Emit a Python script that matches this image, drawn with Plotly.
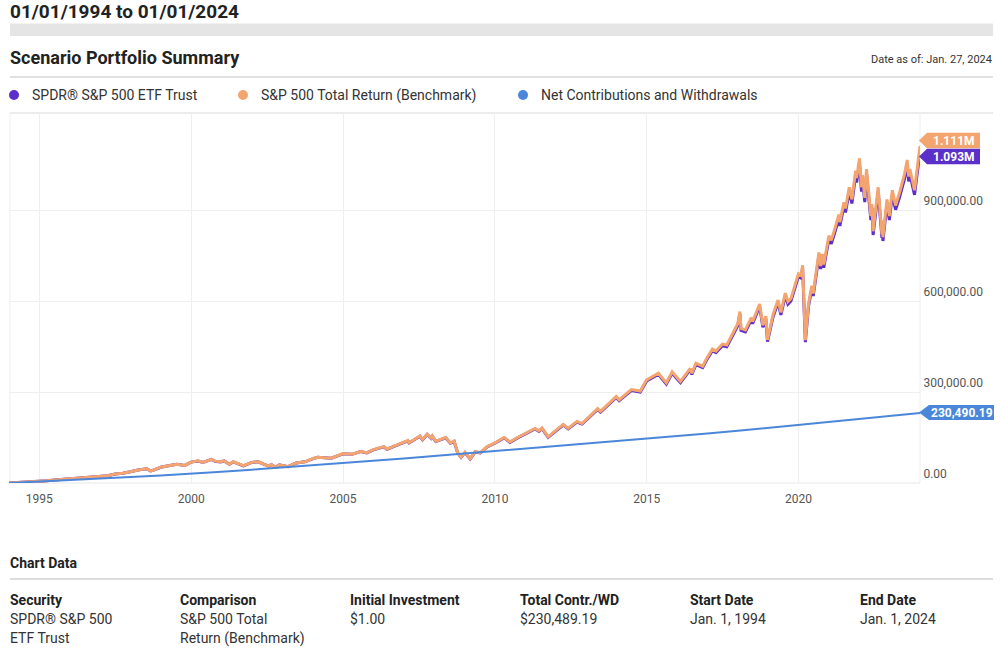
import plotly.graph_objects as go

# ---------------- data ----------------
dates = [
    "1994-01-01", "1994-04-01", "1994-07-01", "1994-10-01",
    "1995-01-01", "1995-04-01", "1995-07-01", "1995-10-01",
    "1996-01-01", "1996-04-01", "1996-07-01", "1996-10-01",
    "1997-01-01", "1997-04-01", "1997-07-01", "1997-10-01",
    "1998-01-01", "1998-04-01", "1998-07-15", "1998-08-31", "1998-10-01", "1998-12-31",
    "1999-04-01", "1999-07-15", "1999-10-15", "1999-12-31",
    "2000-03-24", "2000-05-24", "2000-09-01", "2000-10-15", "2000-12-20",
    "2001-01-31", "2001-04-04", "2001-05-21", "2001-09-21", "2001-12-31",
    "2002-03-19", "2002-07-23", "2002-08-22", "2002-10-09", "2002-11-27",
    "2003-03-11", "2003-06-17", "2003-09-30", "2003-12-31",
    "2004-03-01", "2004-08-12", "2004-12-31",
    "2005-04-20", "2005-07-29", "2005-10-13", "2005-12-31",
    "2006-05-05", "2006-06-13", "2006-09-29", "2006-12-31",
    "2007-02-20", "2007-03-05", "2007-07-16", "2007-08-15", "2007-10-09", "2007-11-26", "2007-12-10",
    "2008-01-22", "2008-05-19", "2008-07-15", "2008-08-29", "2008-10-10", "2008-11-20",
    "2009-01-06", "2009-03-09", "2009-05-08", "2009-07-10", "2009-09-30", "2009-12-31",
    "2010-04-23", "2010-07-02", "2010-10-01", "2010-12-31",
    "2011-04-29", "2011-06-15", "2011-07-22", "2011-10-03", "2011-12-31",
    "2012-04-02", "2012-06-01", "2012-09-14", "2012-11-15", "2012-12-31",
    "2013-05-21", "2013-06-24", "2013-09-18", "2013-12-31",
    "2014-02-03", "2014-06-30", "2014-10-15", "2014-12-31",
    "2015-05-21", "2015-08-25", "2015-11-03",
    "2016-02-11", "2016-06-08", "2016-06-27", "2016-08-15", "2016-11-04", "2016-12-31",
    "2017-03-01", "2017-04-13", "2017-06-30", "2017-08-21", "2017-10-31", "2017-12-31",
    "2018-01-26", "2018-02-08", "2018-04-02", "2018-06-12", "2018-06-28", "2018-09-20", "2018-10-29", "2018-12-03", "2018-12-24",
    "2019-02-28", "2019-04-30", "2019-06-03", "2019-07-26", "2019-08-27", "2019-10-02", "2019-12-31",
    "2020-01-31", "2020-02-19", "2020-03-23", "2020-04-30", "2020-06-08", "2020-06-26", "2020-09-02", "2020-09-23", "2020-10-12", "2020-10-30", "2020-12-31",
    "2021-01-29", "2021-03-04", "2021-04-30", "2021-05-12", "2021-06-30", "2021-07-19", "2021-09-02", "2021-10-04", "2021-11-18", "2021-11-30",
    "2022-01-03", "2022-01-27", "2022-02-09", "2022-03-08", "2022-03-29", "2022-05-20", "2022-06-02", "2022-06-16", "2022-08-16", "2022-09-30", "2022-10-04", "2022-10-12", "2022-11-30", "2022-12-28",
    "2023-02-02", "2023-03-13", "2023-04-28", "2023-06-30", "2023-07-31", "2023-08-18", "2023-09-01", "2023-10-27",
    "2024-01-01",
]

sp500_tr = [
    1, 1200, 2500, 3900,
    5500, 7500, 9800, 11800,
    14000, 16000, 17000, 20000,
    23000, 24000, 30000, 32000,
    37000, 43000, 47000, 40000, 42000, 52000,
    57000, 62000, 58000, 69000,
    73000, 68000, 78000, 72000, 70000,
    73000, 62000, 70000, 57000, 68000,
    70000, 55000, 61000, 52000, 60000,
    54000, 66000, 70000, 80000,
    85000, 82000, 97000,
    95000, 104000, 100000, 110000,
    120000, 112000, 124000, 133000,
    140000, 133000, 155000, 143000, 161000, 148000, 155000,
    138000, 150000, 132000, 138000, 100000, 85000,
    101000, 80000, 103000, 100000, 120000, 132000,
    150000, 135000, 150000, 163000,
    180000, 172000, 181000, 152000, 172000,
    193000, 180000, 203000, 196000, 208000,
    245000, 236000, 258000, 285000,
    274000, 308000, 303000, 340000,
    362000, 330000, 366000,
    335000, 378000, 362000, 395000, 385000, 415000,
    442000, 435000, 458000, 455000, 495000, 525000,
    565000, 510000, 505000, 545000, 532000, 590000, 520000, 550000, 472000,
    555000, 603000, 562000, 626000, 598000, 608000, 690000,
    685000, 718000, 471000, 590000, 650000, 625000, 760000, 715000, 755000, 720000, 815000,
    800000, 830000, 885000, 860000, 925000, 905000, 975000, 935000, 1030000, 1005000,
    1070000, 975000, 1015000, 940000, 1035000, 880000, 920000, 830000, 975000, 820000, 865000, 810000, 935000, 880000,
    965000, 915000, 955000, 1020000, 1065000, 1010000, 1035000, 965000,
    1111000,
]

spdr = [
    1, 1200, 2500, 3900,
    5490, 7490, 9780, 11780,
    13970, 15970, 16970, 19960,
    22950, 23950, 29930, 31920,
    36900, 42880, 46870, 39880, 41870, 51840,
    56830, 61800, 57800, 68760,
    72700, 67700, 77700, 71700, 69700,
    72700, 61750, 69720, 56770, 67730,
    69700, 54780, 60750, 51790, 59760,
    53770, 65730, 69700, 79600,
    84550, 81550, 96450,
    94450, 103400, 99400, 109350,
    119300, 111400, 123300, 132200,
    139100, 132100, 154000, 142100, 160000, 147100, 154000,
    137100, 149000, 131100, 137000, 99300, 84400,
    100200, 79400, 102200, 99200, 119000, 130900,
    148700, 133800, 148700, 161500,
    178400, 170400, 179400, 150600, 170400,
    191200, 178300, 201100, 194200, 206000,
    242600, 233700, 255400, 282100,
    271200, 304800, 299800, 336400,
    358000, 326400, 362000,
    331000, 373500, 357700, 390300, 380400, 410000,
    436500, 429600, 452300, 449300, 488800, 518400,
    557700, 503400, 498400, 537900, 525100, 582300, 513200, 542900, 465900,
    547500, 594900, 554400, 617500, 589900, 599800, 680700,
    675400, 707900, 464400, 581700, 640900, 616300, 749400, 705000, 744400, 709900, 803600,
    788400, 818000, 872200, 847500, 911600, 891900, 960900, 921400, 1015100, 990400,
    1053900, 960400, 999800, 925900, 1019500, 866800, 906200, 817600, 960400, 807700, 852000, 797900, 921000, 866800,
    950000, 900800, 940200, 1004200, 1048500, 994300, 1019000, 950000,
    1093000,
]

contrib_dates = [
    "1994-01-01", "1995-01-01", "1996-01-01", "1997-01-01", "1998-01-01", "1999-01-01",
    "2000-01-01", "2001-01-01", "2002-01-01", "2003-01-01", "2004-01-01", "2005-01-01",
    "2006-01-01", "2007-01-01", "2008-01-01", "2009-01-01", "2010-01-01", "2011-01-01",
    "2012-01-01", "2013-01-01", "2014-01-01", "2015-01-01", "2016-01-01", "2017-01-01",
    "2018-01-01", "2019-01-01", "2020-01-01", "2021-01-01", "2022-01-01", "2023-01-01",
    "2024-01-01",
]
net_contrib = [
    1, 4500, 9500, 14500, 19500, 25000,
    30500, 37000, 44000, 51000, 58500, 66000,
    73500, 81000, 89000, 97000, 105000, 113000,
    121000, 129000, 137000, 145500, 154000, 163000,
    172000, 181500, 191000, 200500, 210500, 220500,
    230490.19,
]

x_tickvals = ["1995-01-01", "2000-01-01", "2005-01-01", "2010-01-01", "2015-01-01", "2020-01-01"]
x_ticktext = ["1995", "2000", "2005", "2010", "2015", "2020"]
y_tickvals = [0, 300000, 600000, 900000]
y_ticktext = ["0.00", "300,000.00", "600,000.00", "900,000.00"]

series_names = ["SPDR® S&P 500 ETF Trust", "S&P 500 Total Return (Benchmark)", "Net Contributions and Withdrawals"]
end_labels = ["1.093M", "1.111M", "230,490.19"]

table_headers = ["Security", "Comparison", "Initial Investment", "Total Contr./WD", "Start Date", "End Date"]
table_line1 = ["SPDR® S&P 500", "S&P 500 Total", "$1.00", "$230,489.19", "Jan. 1, 1994", "Jan. 1, 2024"]
table_line2 = ["ETF Trust", "Return (Benchmark)", "", "", "", ""]

# ---------------- style ----------------
PURPLE = "#5B2FC9"
ORANGE = "#F4A46F"
BLUE = "#4A87DA"
FONT = "Roboto"
TXT = "#222222"

FIG_W, FIG_H = 1000, 654

# plot area in page pixels
L, R, T, B = 9, 920, 113, 483
W, H = R - L, B - T


def X(px):
    return (px - L) / W


def Y(py):
    return (B - py) / H


fig = go.Figure()
fig.add_trace(go.Scatter(x=dates, y=spdr, mode="lines", name=series_names[0],
                         line=dict(color=PURPLE, width=3), hoverinfo="skip"))
fig.add_trace(go.Scatter(x=dates, y=sp500_tr, mode="lines", name=series_names[1],
                         line=dict(color=ORANGE, width=3), hoverinfo="skip"))
fig.add_trace(go.Scatter(x=contrib_dates, y=net_contrib, mode="lines", name=series_names[2],
                         line=dict(color=BLUE, width=2), hoverinfo="skip"))

annotations = []
shapes = []


def text(px, py, s, size=14, bold=False, color=TXT, anchor="left"):
    annotations.append(dict(
        xref="paper", yref="paper", x=X(px), y=Y(py),
        text=f"<b>{s}</b>" if bold else s, showarrow=False,
        xanchor=anchor, yanchor="middle", borderpad=0,
        font=dict(family=FONT, size=size, color=color)))


def hline(px0, px1, py, color="#e2e2e2", width=1.5):
    shapes.append(dict(type="line", xref="paper", yref="paper",
                       x0=X(px0), x1=X(px1), y0=Y(py), y1=Y(py),
                       line=dict(color=color, width=width), layer="below"))


# header
text(9, 12, "01/01/1994 to 01/01/2024", size=19, bold=True)
shapes.append(dict(type="rect", xref="paper", yref="paper",
                   x0=X(10), x1=X(993), y0=Y(36), y1=Y(23.5),
                   fillcolor="#e5e5e5", line=dict(width=0), layer="below"))
text(9, 58, "Scenario Portfolio Summary", size=18, bold=True)
text(993, 60, "Date as of: Jan. 27, 2024", size=11, color="#333333", anchor="right")
hline(10, 993, 77, color="#e0e0e0", width=2)

# legend
legend_x = [14, 243, 523]
for cx, name, col in zip(legend_x, series_names, [PURPLE, ORANGE, BLUE]):
    shapes.append(dict(type="circle", xref="paper", yref="paper",
                       x0=X(cx - 5), x1=X(cx + 5), y0=Y(95 + 5), y1=Y(95 - 5),
                       fillcolor=col, line=dict(width=0)))
    text(cx + 17, 95, name, size=14, color="#333333")

# plot frame
hline(10, 993, 113, color="#e6e6e6", width=1.5)
for px in (L + 1, R):
    shapes.append(dict(type="line", xref="paper", yref="paper",
                       x0=X(px), x1=X(px), y0=0, y1=1,
                       line=dict(color="#eeeeee", width=1), layer="below"))
hline(L, R, B, color="#e8e8e8", width=1)


# end-value tags
def tag(cy, xl, xr, h, color, label):
    t, b = cy - h / 2, cy + h / 2
    path = (f"M {X(919)},{Y(cy)} L {X(xl)},{Y(t)} L {X(xr)},{Y(t)} "
            f"L {X(xr)},{Y(b)} L {X(xl)},{Y(b)} Z")
    shapes.append(dict(type="path", xref="paper", yref="paper", path=path,
                       fillcolor=color, line=dict(width=0)))
    text((xl + xr) / 2 + 0.5, cy + 0.5, label, size=12, bold=True, color="white", anchor="center")


tag(140.5, 927, 980, 15.5, ORANGE, end_labels[1])
tag(156.5, 927, 980, 15.5, PURPLE, end_labels[0])
tag(412.5, 929, 994, 15, BLUE, end_labels[2])

# chart data table
text(9, 563, "Chart Data", size=14, bold=True)
hline(10, 993, 579, color="#dddddd", width=2)
col_x = [9, 179, 349, 519, 689, 859]
for cx, h, l1, l2 in zip(col_x, table_headers, table_line1, table_line2):
    text(cx, 600, h, size=14, bold=True)
    text(cx, 619, l1, size=14, color="#333333")
    if l2:
        text(cx, 638, l2, size=14, color="#333333")

fig.update_layout(
    width=FIG_W, height=FIG_H,
    margin=dict(l=L, r=FIG_W - R, t=T, b=FIG_H - B, pad=0),
    paper_bgcolor="white", plot_bgcolor="white",
    showlegend=False,
    font=dict(family=FONT, size=12, color="#555555"),
    annotations=annotations, shapes=shapes,
    xaxis=dict(range=["1994-01-01", "2024-01-01"], tickvals=x_tickvals, ticktext=x_ticktext,
               showgrid=True, gridcolor="#efefef", gridwidth=1, zeroline=False,
               showline=False, ticks="outside", ticklen=5, tickcolor="rgba(0,0,0,0)",
               tickfont=dict(family=FONT, size=12, color="#555555"), fixedrange=True),
    yaxis=dict(range=[0, 1219800], side="right", tickvals=y_tickvals, ticktext=y_ticktext,
               showgrid=True, gridcolor="#efefef", gridwidth=1, zeroline=False,
               showline=False, ticklabelposition="outside top", ticks="outside", ticklen=10,
               tickcolor="rgba(0,0,0,0)",
               tickfont=dict(family=FONT, size=12, color="#555555"), fixedrange=True),
)

# remove the page's default 8px body margin so the figure sits at the window origin
fig.write_html("out.html", config={"displayModeBar": False},
               post_script="document.body.style.margin='0px';")
